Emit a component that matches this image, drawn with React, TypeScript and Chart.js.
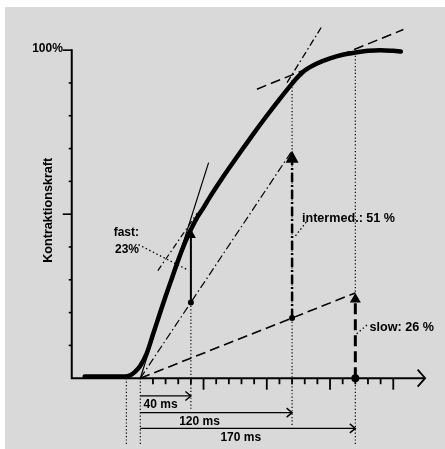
import { useEffect, useRef } from "react";
import { Chart, registerables } from "chart.js";

Chart.register(...registerables);

// ---------------- data ----------------
// contraction force curve: time after stimulus (ms) vs. force (% of max)
const curveTimeMs = [-44, -25, -12, -8, -4, 0, 5, 10, 15, 20, 25, 30, 35, 40, 45, 50, 55, 60, 65, 70, 80, 90, 100, 110, 120, 125, 130, 140, 150, 160, 170, 180, 190, 200, 206];
const curveForcePct = [0.5, 0.5, 0.5, 0.9, 2, 3.8, 7.5, 13.3, 19.2, 25, 30.5, 36, 41, 45.3, 49, 52, 55.2, 58.2, 61.1, 63.9, 69.4, 74.8, 80, 85, 89.8, 92, 93.8, 96, 97.5, 98.6, 99.3, 99.8, 100, 99.8, 99.6];

// fibre types: measuring times, arrow base and tip (% force)
const fibreTimesMs = [40, 120, 170];
const fibreBasePct = [23.1, 18.35, 0];
const fibreTipPct = [45.5, 69.35, 26];
const curveAtTimesPct = [45.3, 90.8, 99.3];
const spanLabels = ["40 ms", "120 ms", "170 ms"];

// auxiliary lines (ms, %)
const fastTangentMs = [0, 54];
const fastTangentPct = [0, 65.7];
const fastDashTangentMs = [13.9, 45];
const fastDashTangentPct = [32.8, 50.3];
const upperDashDotMs = [116, 143];
const upperDashDotPct = [90.1, 106.9];
const plateauChordMs = [92.2, 208];
const plateauChordPct = [88.1, 106.3];
const onsetMs = -11;

// axes
const yTicksPct = [10, 20, 30, 40, 50, 60, 70, 80, 90, 100];
const yMajorTicksPct = [50, 100];
const xTicksMs = [10, 20, 30, 40, 50, 60, 70, 80, 90, 100, 110, 120, 130, 140, 150, 160, 170, 180, 190, 200];
const xMajorTicksMs = [50, 100, 150, 200];
const yAxisLabel = "Kontraktionskraft";
const yTopLabel = "100%";

// ---------------- layout (scale extents) ----------------
const X_MIN = -107.76;
const X_MAX = 237.73;
const Y_MIN = -20.36;
const Y_MAX = 114.07;
const AXIS_X_MS = -54.2;
const AXIS_END_MS = 225.2;
const BOTTOM = Y_MIN;
const spanLevelsPct = [-5.4, -10.5, -15.3];
const dottedEndsPct = [-9.3, -14.7, BOTTOM];

const FONT = 'bold 12px "Liberation Sans", Arial, Helvetica, sans-serif';
const FONT_L = 'bold 12.6px "Liberation Sans", Arial, Helvetica, sans-serif';

const pts = (xs: number[], ys: number[]) => xs.map((x, i) => ({ x, y: ys[i] }));

function line(data: { x: number; y: number }[], extra: any = {}) {
  return {
    type: "scatter",
    data,
    showLine: true,
    pointRadius: 0,
    borderColor: "#000",
    backgroundColor: "#000",
    borderWidth: 1.2,
    fill: false,
    clip: false,
    ...extra,
  };
}

const diagramPlugin = {
  id: "diagram",
  beforeDatasetsDraw(chart: any) {
    const { ctx } = chart;
    const X = (v: number) => chart.scales.x.getPixelForValue(v);
    const Y = (v: number) => chart.scales.y.getPixelForValue(v);
    ctx.save();
    ctx.strokeStyle = "#000";
    ctx.lineWidth = 2;
    ctx.lineCap = "butt";
    const ax = X(AXIS_X_MS);
    const ay = Y(0);
    // axis lines
    ctx.beginPath();
    ctx.moveTo(ax, Y(100) - 1);
    ctx.lineTo(ax, ay);
    ctx.lineTo(X(AXIS_END_MS), ay);
    ctx.stroke();
    // x-axis arrow
    const ex = X(AXIS_END_MS);
    ctx.lineWidth = 1.8;
    ctx.beginPath();
    ctx.moveTo(ex - 7.5, ay - 8.5);
    ctx.lineTo(ex, ay);
    ctx.lineTo(ex - 7.5, ay + 8.5);
    ctx.stroke();
    // y ticks
    ctx.lineWidth = 1.6;
    yTicksPct.forEach((t) => {
      const len = yMajorTicksPct.includes(t) ? 9 : 3;
      ctx.beginPath();
      ctx.moveTo(ax, Y(t));
      ctx.lineTo(ax - len, Y(t));
      ctx.stroke();
    });
    // x ticks
    ctx.lineWidth = 1.8;
    xTicksMs.forEach((t) => {
      const len = xMajorTicksMs.includes(t) ? 11.5 : 6;
      ctx.beginPath();
      ctx.moveTo(X(t), ay);
      ctx.lineTo(X(t), ay + len);
      ctx.stroke();
    });
    ctx.restore();
  },
  afterDatasetsDraw(chart: any) {
    const { ctx } = chart;
    const X = (v: number) => chart.scales.x.getPixelForValue(v);
    const Y = (v: number) => chart.scales.y.getPixelForValue(v);
    ctx.save();
    ctx.fillStyle = "#000";
    ctx.strokeStyle = "#000";
    // filled arrowheads on vertical arrows
    const heads = [
      { h: 9, w: 5 },
      { h: 12, w: 6.5 },
      { h: 9.5, w: 5.5 },
    ];
    fibreTimesMs.forEach((t, i) => {
      const x = X(t);
      const y = Y(fibreTipPct[i]);
      ctx.beginPath();
      ctx.moveTo(x, y);
      ctx.lineTo(x + heads[i].w, y + heads[i].h);
      ctx.lineTo(x - heads[i].w, y + heads[i].h);
      ctx.closePath();
      ctx.fill();
    });
    // open chevrons on time spans
    ctx.lineWidth = 1.4;
    fibreTimesMs.forEach((t, i) => {
      const x = X(t);
      const y = Y(spanLevelsPct[i]);
      ctx.beginPath();
      ctx.moveTo(x - 5.5, y - 4.5);
      ctx.lineTo(x, y);
      ctx.lineTo(x - 5.5, y + 4.5);
      ctx.stroke();
    });
    // texts
    ctx.font = FONT;
    ctx.textBaseline = "middle";
    ctx.textAlign = "center";
    const spanTextPos = [
      { x: 16, y: -8.1 },
      { x: 46.8, y: -13.4 },
      { x: 79.4, y: -18.2 },
    ];
    spanLabels.forEach((s, i) => ctx.fillText(s, X(spanTextPos[i].x), Y(spanTextPos[i].y)));
    ctx.textAlign = "right";
    ctx.fillText(yTopLabel, X(-61.2), Y(100.6));
    ctx.fillText("fast:", X(-1.0), Y(44.3));
    ctx.fillText("23%", X(-1.0), Y(39.2));
    ctx.textAlign = "left";
    ctx.font = FONT_L;
    ctx.fillText("intermed.: 51 %", X(127.8), Y(48.8));
    ctx.fillText("slow: 26 %", X(181.2), Y(15.6));
    // rotated y label
    ctx.save();
    ctx.font = FONT_L;
    ctx.translate(X(-72.8), Y(51.2));
    ctx.rotate(-Math.PI / 2);
    ctx.textAlign = "center";
    ctx.fillText(yAxisLabel, 0, 0);
    ctx.restore();
    ctx.restore();
  },
};

export default function App() {
  const ref = useRef<HTMLCanvasElement>(null);
  useEffect(() => {
    const dotted = { borderDash: [1.2, 2.2], borderWidth: 1.2, order: 20 };
    const datasets: any[] = [
      // main curve (top)
      line(pts(curveTimeMs, curveForcePct), {
        borderWidth: 4.5,
        cubicInterpolationMode: "monotone",
        borderCapStyle: "round",
        borderJoinStyle: "round",
        order: 0,
      }),
      // tangent lines
      line(pts(fastTangentMs, fastTangentPct), { borderWidth: 1.2, order: 5 }),
      line(pts(fastDashTangentMs, fastDashTangentPct), { borderDash: [6, 3, 1.5, 3], borderWidth: 1.2, order: 5 }),
      line(pts(upperDashDotMs, upperDashDotPct), { borderDash: [7, 3, 1.5, 3], borderWidth: 1.3, order: 5 }),
      line(pts(plateauChordMs, plateauChordPct), { borderDash: [10, 5], borderWidth: 1.5, order: 5 }),
      // chords from stimulus origin
      line(pts([0, fibreTimesMs[1]], [0, fibreTipPct[1]]), { borderDash: [8, 3, 1.5, 3], borderWidth: 1.2, order: 6 }),
      line(pts([0, fibreTimesMs[2]], [0, fibreTipPct[2]]), { borderDash: [10, 5], borderWidth: 1.6, order: 6 }),
      // vertical arrows
      line(pts([fibreTimesMs[0], fibreTimesMs[0]], [fibreBasePct[0], fibreTipPct[0] - 2]), { borderWidth: 2, order: 3 }),
      line(pts([fibreTimesMs[1], fibreTimesMs[1]], [fibreBasePct[1], fibreTipPct[1] - 2.5]), { borderDash: [9, 3, 2, 3], borderWidth: 2.5, order: 3 }),
      line(pts([fibreTimesMs[2], fibreTimesMs[2]], [fibreBasePct[2], fibreTipPct[2] - 2]), { borderDash: [11, 5], borderWidth: 3, order: 3 }),
      // dots
      {
        type: "scatter",
        data: [
          { x: fibreTimesMs[0], y: fibreBasePct[0] },
          { x: fibreTimesMs[1], y: fibreBasePct[1] },
          { x: fibreTimesMs[2], y: fibreBasePct[2] },
        ],
        pointRadius: [3, 3, 4],
        pointBackgroundColor: "#000",
        pointBorderColor: "#000",
        borderWidth: 0,
        showLine: false,
        clip: false,
        order: 1,
      },
      // time spans below axis
      ...fibreTimesMs.map((t, i) =>
        line(pts([0, t], [spanLevelsPct[i], spanLevelsPct[i]]), { borderWidth: 1.4, order: 4 })
      ),
      // dotted verticals
      line(pts([onsetMs, onsetMs], [0, BOTTOM]), dotted),
      line(pts([0, 0], [0, BOTTOM]), dotted),
      line(pts([fibreTimesMs[0], fibreTimesMs[0]], [fibreBasePct[0], dottedEndsPct[0]]), dotted),
      line(pts([fibreTimesMs[1], fibreTimesMs[1]], [curveAtTimesPct[1], dottedEndsPct[1]]), dotted),
      line(pts([fibreTimesMs[2], fibreTimesMs[2]], [curveAtTimesPct[2], fibreTipPct[2]]), dotted),
      line(pts([fibreTimesMs[2], fibreTimesMs[2]], [0, dottedEndsPct[2]]), dotted),
      // label leaders
      line(pts([-1.4, 38.1], [40.7, 32.9]), { borderDash: [1.5, 2.5], borderWidth: 1.3, order: 7 }),
      line(pts([131.2, 122.7], [47.6, 43.4]), { borderDash: [1.5, 2.5], borderWidth: 1.3, order: 7 }),
      line(pts([179.2, 169.9], [16.2, 13.2]), { borderDash: [1.5, 2.5], borderWidth: 1.3, order: 7 }),
    ];

    const chart = new Chart(ref.current as HTMLCanvasElement, {
      type: "scatter",
      data: { datasets },
      options: {
        responsive: false,
        maintainAspectRatio: false,
        animation: false,
        events: [],
        devicePixelRatio: 1,
        layout: { padding: 0 },
        plugins: { legend: { display: false }, tooltip: { enabled: false } },
        scales: {
          x: { type: "linear", min: X_MIN, max: X_MAX, display: false },
          y: { type: "linear", min: Y_MIN, max: Y_MAX, display: false },
        },
      },
      plugins: [diagramPlugin],
    } as any);
    return () => chart.destroy();
  }, []);

  return (
    <div style={{ position: "absolute", left: 0, top: 0, width: 445, height: 449, background: "#fff", overflow: "hidden" }}>
      <div style={{ position: "absolute", left: 5, top: 7, right: 0, bottom: 0, background: "#d9d9d9" }} />
      <canvas
        ref={ref}
        width={445}
        height={449}
        style={{ position: "absolute", left: 0, top: 0, width: 445, height: 449 }}
      />
    </div>
  );
}
